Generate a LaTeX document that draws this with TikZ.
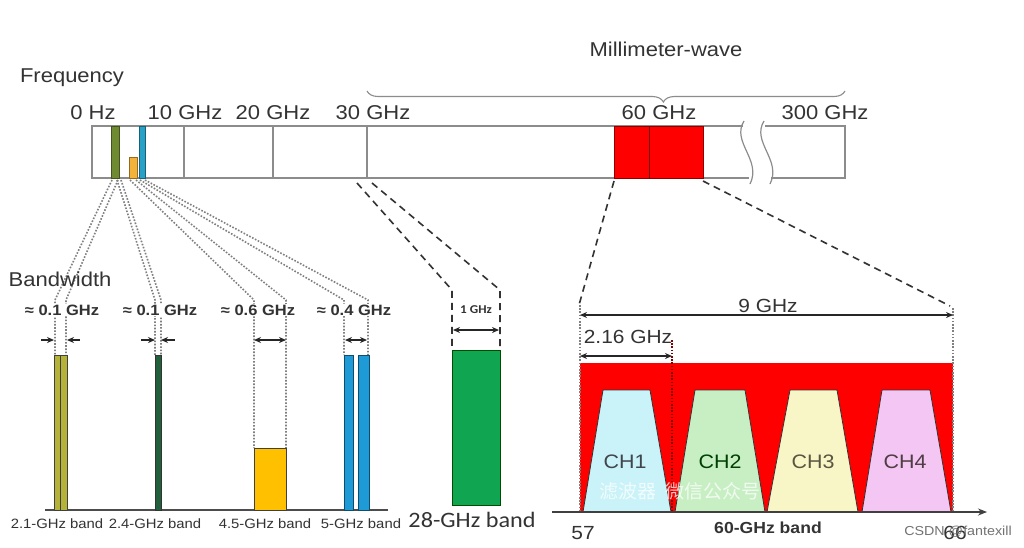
\documentclass[tikz,border=0pt]{standalone}
\usepackage{fontspec}
\setmainfont[FakeStretch=1.1]{Liberation Sans}
\newfontfamily\calfont[FakeStretch=1.1]{Carlito}
\newfontfamily\cjkfont{Noto Sans CJK SC}
\usetikzlibrary{arrows.meta,decorations.pathreplacing}
\definecolor{barline}{HTML}{8C8C8C}
\definecolor{olivebar}{HTML}{6F8A30}
\definecolor{olivelight}{HTML}{B5B23A}
\definecolor{tealbar}{HTML}{27A2C6}
\definecolor{goldbar}{HTML}{F3B23A}
\definecolor{yellowbar}{HTML}{FFC000}
\definecolor{darkgreen}{HTML}{22603C}
\definecolor{bluebar}{HTML}{1E9AD6}
\definecolor{greenbar}{HTML}{10A550}
\definecolor{mmred}{HTML}{FF0000}
\definecolor{chone}{HTML}{C9F3F8}
\definecolor{chtwo}{HTML}{C8EFC4}
\definecolor{chthree}{HTML}{F8F6C6}
\definecolor{chfour}{HTML}{F3C6F3}
\definecolor{txt}{HTML}{333333}
\tikzset{
  biglbl/.style={font=\fontsize{20}{22}\selectfont, text=txt, inner sep=0pt, anchor=base},
  bwlbl/.style={font=\bfseries\fontsize{15}{17}\selectfont, text=txt, inner sep=1pt, anchor=base, fill=white},
  bandlbl/.style={font=\fontsize{13.5}{15}\selectfont, text=txt, inner sep=0pt, anchor=base},
  chlbl/.style={font=\fontsize{19.5}{21}\selectfont, inner sep=0pt, anchor=base},
  dotline/.style={draw=black!50, dash pattern=on 1.6pt off 1.6pt, line width=1.6pt},
  dashline/.style={draw=black!80, dash pattern=on 7pt off 5pt, line width=1.6pt},
  dimarrow/.style={{Stealth[length=7pt,width=6pt]}-{Stealth[length=7pt,width=6pt]}, line width=1.2pt, draw=black!85},
  onearrow/.style={-{Stealth[length=7pt,width=6pt]}, line width=1.2pt, draw=black!85},
  barbox/.style={line width=0.8pt},
  trap/.style={draw=black!80, line width=0.8pt},
}
\begin{document}
\begin{tikzpicture}[x=1pt,y=-1pt]
\useasboundingbox[fill=white] (0,0) rectangle (1024,547);

% ---------- top frequency bar ----------
\draw[barline, line width=1.2pt] (743,126) -- (92,126) -- (92,178) -- (749,178);
\draw[barline, line width=1.2pt] (744,121) .. controls (731,142) and (762,160) .. (750,184);
\draw[barline, line width=1.2pt] (765,126) -- (845,126) -- (845,178) -- (771,178);
\draw[barline, line width=1.2pt] (764,121) .. controls (751,142) and (782,160) .. (770,184);
\foreach \xx in {184,273,367} \draw[barline, line width=1.2pt] (\xx,126) -- (\xx,178);
\draw[barbox, fill=mmred, draw=red!55!black] (614,126) rectangle (703,178);
\draw[red!45!black, line width=0.8pt] (649,126) -- (649,178);
\draw[barbox, fill=olivebar, draw=olivebar!60!black] (111,126) rectangle (119,178);
\draw[barbox, fill=goldbar, draw=goldbar!60!black] (129,157) rectangle (137,178);
\draw[barbox, fill=tealbar, draw=tealbar!60!black] (139,126) rectangle (145,178);

\node[biglbl] (freq) at (72,82) {Frequency};
\node[biglbl] (f0) at (93,119) {0 Hz};
\node[biglbl] (f10) at (185,119) {10 GHz};
\node[biglbl] (f20) at (273,119) {20 GHz};
\node[biglbl] (f30) at (373,119) {30 GHz};
\node[biglbl] (f60) at (659,119) {60 GHz};
\node[biglbl] (f300) at (825,119) {300 GHz};
\node[biglbl] (mmw) at (666,56) {Millimeter-wave};
\draw[barline, line width=1.1pt, decorate, decoration={brace, amplitude=11pt, aspect=0.62, mirror}] (367,91) -- (845,91);

% ---------- sub-6 GHz panel ----------
\draw[dotline] (112,180) -- (55,300) -- (55,355);
\draw[dotline] (118,180) -- (66,300) -- (66,355);
\draw[dotline] (117,180) -- (155,300) -- (155,355);
\draw[dotline] (121,180) -- (161,300) -- (161,355);
\draw[dotline] (130,180) -- (254,300) -- (254,448);
\draw[dotline] (136,180) -- (286,300) -- (286,448);
\draw[dotline] (140,180) -- (344,300) -- (344,355);
\draw[dotline] (145,180) -- (368,300) -- (368,355);

\draw[black!70, line width=1.5pt] (45,510) -- (388,510);
\draw[barbox, fill=olivelight, draw=black!75] (54,355) rectangle (60,510);
\draw[barbox, fill=olivelight, draw=black!75] (60,355) rectangle (67,510);
\draw[barbox, fill=darkgreen, draw=black!80] (155,355) rectangle (161,510);
\draw[barbox, fill=yellowbar, draw=black!75] (254,448) rectangle (286,510);
\draw[barbox, fill=bluebar, draw=bluebar!50!black] (344,355) rectangle (353,510);
\draw[barbox, fill=bluebar, draw=bluebar!50!black] (358,355) rectangle (369,510);

\coordinate (a1) at (41,340); \coordinate (a1e) at (54,340);
\coordinate (a2) at (80,340); \coordinate (a2e) at (67,340);
\coordinate (b1) at (141,340); \coordinate (b1e) at (155,340);
\coordinate (b2) at (175,340); \coordinate (b2e) at (161,340);
\draw[onearrow] (a1) -- (a1e);
\draw[onearrow] (a2) -- (a2e);
\draw[onearrow] (b1) -- (b1e);
\draw[onearrow] (b2) -- (b2e);
\coordinate (c1) at (254,340); \coordinate (c2) at (286,340);
\coordinate (d1) at (345,340); \coordinate (d2) at (367,340);
\draw[dimarrow] (c1) -- (c2);
\draw[dimarrow] (d1) -- (d2);

\node[biglbl] (bw) at (60,286) {Bandwidth};
\node[bwlbl] (bw1) at (62,315) {≈ 0.1 GHz};
\node[bwlbl] (bw2) at (160,315) {≈ 0.1 GHz};
\node[bwlbl] (bw3) at (258,315) {≈ 0.6 GHz};
\node[bwlbl] (bw4) at (354,315) {≈ 0.4 GHz};
\node[bandlbl] (b21) at (57,528) {2.1-GHz band};
\node[bandlbl] (b24) at (155,528) {2.4-GHz band};
\node[bandlbl] (b45) at (265,528) {4.5-GHz band};
\node[bandlbl] (b5) at (361,528) {5-GHz band};

% ---------- 28 GHz panel ----------
\draw[dashline] (357,183) -- (452,290) -- (452,350);
\draw[dashline] (372,183) -- (500,290) -- (500,350);
\draw[barbox, fill=greenbar, draw=green!30!black] (452,350) rectangle (500,505);
\coordinate (g1) at (453,330); \coordinate (g2) at (499,330);
\draw[dimarrow] (g1) -- (g2);
\node[font=\calfont\bfseries\fontsize{12}{14}\selectfont, text=txt, inner sep=0pt, anchor=base] (onegig) at (476,313) {1 GHz};
\node[font=\calfont\fontsize{22}{24}\selectfont, text=txt, inner sep=0pt, anchor=base] (b28) at (472,527) {28-GHz band};

% ---------- 60 GHz panel ----------
\draw[dashline] (614,181) -- (579,305);
\draw[dashline] (703,181) -- (950,306);
\fill[mmred] (580,363) rectangle (953,512);
\draw[trap, fill=chone] (583,512) -- (603,390) -- (650,390) -- (671,512) -- cycle;
\draw[trap, fill=chtwo] (675,512) -- (695,390) -- (745,390) -- (765,512) -- cycle;
\draw[trap, fill=chthree] (767,512) -- (790,390) -- (837,390) -- (858,512) -- cycle;
\draw[trap, fill=chfour] (862,512) -- (882,390) -- (930,390) -- (951,512) -- cycle;
\draw[dotline, line width=1.1pt] (580,305) -- (580,512);
\draw[dotline, line width=1.1pt, draw=red!50!black] (672,340) -- (672,512);
\draw[dotline, line width=1.1pt] (953,308) -- (953,512);
\coordinate (n1) at (580,315); \coordinate (n2) at (953,315);
\coordinate (m1) at (580,356); \coordinate (m2) at (672,356);
\draw[dimarrow] (n1) -- (n2);
\draw[dimarrow] (m1) -- (m2);
\coordinate (ax1) at (552,512); \coordinate (ax2) at (987,512);
\draw[line width=1.5pt, draw=black!75, -{Stealth[length=9pt,width=7pt]}] (ax1) -- (ax2);

\node[font=\fontsize{19}{21}\selectfont, text=txt, inner sep=0pt, anchor=base] (ninegig) at (768,312) {9 GHz};
\node[font=\fontsize{19}{21}\selectfont, text=txt, inner sep=0pt, anchor=base] (twogig) at (628,343) {2.16 GHz};
\node[chlbl, text=black!50!cyan!40!black] (ch1) at (625,468) {CH1};
\node[chlbl, text=green!25!black] (ch2) at (720,468) {CH2};
\node[chlbl, text=yellow!25!black] (ch3) at (813,468) {CH3};
\node[chlbl, text=magenta!20!black] (ch4) at (905,468) {CH4};
\node[font=\cjkfont\fontsize{19}{21}\selectfont, text=white, opacity=0.75, inner sep=0pt, anchor=base] (wm) at (680,498) {滤波器\ \ 微信公众号};
\node[font=\fontsize{19}{21}\selectfont, text=txt, inner sep=0pt, anchor=base] (s57) at (583,539) {57};
\node[font=\fontsize{19}{21}\selectfont, text=txt, inner sep=0pt, anchor=base] (s66) at (955,539) {66};
\node[font=\bfseries\fontsize{16}{18}\selectfont, text=txt, inner sep=0pt, anchor=base] (b60) at (768,533) {60-GHz band};
\node[font=\fontsize{13}{15}\selectfont, text=black!55, inner sep=0pt, anchor=base] (csdn) at (958,535) {CSDN @fantexill};
\end{tikzpicture}
\end{document}
